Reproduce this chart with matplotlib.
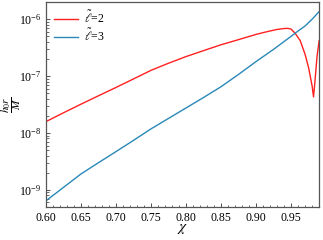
import numpy as np
import matplotlib
matplotlib.use("Agg")
import matplotlib.pyplot as plt
from matplotlib.ticker import MultipleLocator, LogLocator, NullFormatter, FormatStrFormatter

plt.rcParams['font.family'] = ['Liberation Serif', 'DejaVu Serif']
plt.rcParams['mathtext.fontset'] = 'stix'

# l=2 curve (red)
chi_l2 = [0.60, 0.625, 0.65, 0.675, 0.70, 0.725, 0.75, 0.775, 0.80, 0.825, 0.85, 0.875,
          0.90, 0.91, 0.92, 0.93, 0.94, 0.945, 0.95,
          0.956, 0.963, 0.970, 0.975, 0.980, 0.982, 0.984, 0.987, 0.990]
h_l2 = [1.58e-8, 2.26e-8, 3.2e-8, 4.5e-8, 6.3e-8, 8.9e-8, 1.26e-7, 1.68e-7, 2.2e-7, 2.8e-7, 3.55e-7, 4.37e-7,
        5.4e-7, 5.8e-7, 6.2e-7, 6.6e-7, 6.85e-7, 6.9e-7, 6.7e-7,
        5.6e-7, 4.2e-7, 2.4e-7, 1.4e-7, 6.7e-8, 4.3e-8, 7.9e-8, 2.2e-7, 4.2e-7]

# l=3 curve (blue)
chi_l3 = [0.60, 0.65, 0.675, 0.70, 0.725, 0.75, 0.775, 0.80, 0.825, 0.85, 0.875,
          0.90, 0.925, 0.95, 0.96, 0.97, 0.98, 0.99]
h_l3 = [6.4e-10, 1.9e-9, 3.0e-9, 4.7e-9, 7.4e-9, 1.18e-8, 1.8e-8, 2.75e-8, 4.2e-8, 6.5e-8, 1.07e-7,
        1.8e-7, 2.95e-7, 5.0e-7, 6.2e-7, 7.6e-7, 1.0e-6, 1.36e-6]

fig = plt.figure(figsize=(3.23, 2.40), dpi=100)
ax = fig.add_axes([0.142, 0.1375, 0.846, 0.854])

ax.plot(chi_l2, h_l2, color='#ff2020', lw=1.0, label=r'$\tilde{\ell}$=2')
ax.plot(chi_l3, h_l3, color='#2a88b8', lw=1.0, label=r'$\tilde{\ell}$=3')

ax.set_yscale('log')
ax.set_xlim(0.60, 0.99)
ax.set_ylim(5e-10, 2e-6)

ax.xaxis.set_major_locator(MultipleLocator(0.05))
ax.xaxis.set_minor_locator(MultipleLocator(0.01))
ax.yaxis.set_major_locator(LogLocator(base=10, numticks=10))
ax.yaxis.set_minor_locator(LogLocator(base=10, subs=np.arange(2, 10), numticks=10))
ax.yaxis.set_minor_formatter(NullFormatter())
ax.xaxis.set_major_formatter(FormatStrFormatter('%.2f'))

ax.tick_params(which='both', direction='in', labelsize=8.5, colors='#333333', labelcolor='black')
ax.tick_params(which='major', length=3, width=0.6)
ax.tick_params(which='minor', length=1.8, width=0.5)
for s in ax.spines.values():
    s.set_color('#555555')
    s.set_linewidth(0.9)

ax.set_xlabel(r'$\chi$', fontsize=11, labelpad=-1)
ax.set_ylabel(r'$\dfrac{h_0 r}{M}$', fontsize=8)
ax.yaxis.set_label_coords(-0.085, 0.5)

ax.legend(loc='upper left', frameon=False, fontsize=8.5, handlelength=2.0,
          borderaxespad=0.3, labelspacing=0.1, handletextpad=0.5)

fig.savefig('out.png', dpi=100)
